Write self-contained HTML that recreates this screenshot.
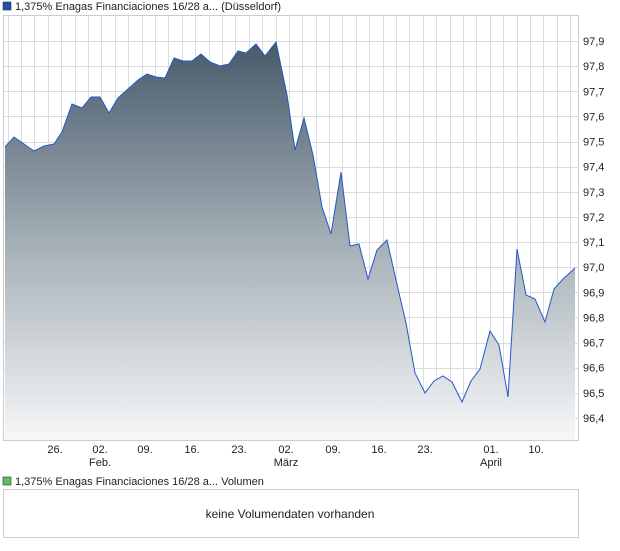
<!DOCTYPE html>
<html><head><style>
body{margin:0;background:#fff;font-family:"Liberation Sans",sans-serif;}
</style></head><body>
<svg width="620" height="546" xmlns="http://www.w3.org/2000/svg" font-family="Liberation Sans, sans-serif" font-size="11">
<defs>
<linearGradient id="g" x1="0" y1="40" x2="0" y2="440" gradientUnits="userSpaceOnUse">
<stop offset="0" stop-color="#46596a"/>
<stop offset="0.5" stop-color="#a3aeb5"/>
<stop offset="1" stop-color="#f6f7f8"/>
</linearGradient>
</defs>
<rect x="3" y="2" width="8" height="8" fill="#1f4fb4" stroke="#333" stroke-width="0.6"/>
<text x="15" y="10" fill="#222">1,375% Enagas Financiaciones 16/28 a... (Düsseldorf)</text>
<rect x="3.5" y="15.5" width="575" height="425" fill="#fff" stroke="#ccc"/>
<g id="grid" stroke="#dcdcdc" stroke-width="1"></g>
<path id="area" fill="url(#g)" d=""/>
<polyline id="line" fill="none" stroke="#2458c8" stroke-width="1" points=""/>
<g id="ylab" fill="#222"></g>
<g fill="#222" text-anchor="middle">
<text x="55" y="453">26.</text>
<text x="100" y="453">02.</text><text x="100" y="466">Feb.</text>
<text x="145" y="453">09.</text>
<text x="192" y="453">16.</text>
<text x="239" y="453">23.</text>
<text x="286" y="453">02.</text><text x="286" y="466">März</text>
<text x="333" y="453">09.</text>
<text x="379" y="453">16.</text>
<text x="425" y="453">23.</text>
<text x="491" y="453">01.</text><text x="491" y="466">April</text>
<text x="536" y="453">10.</text>
</g>
<rect x="3" y="477" width="8" height="8" fill="#5cc05c" stroke="#333" stroke-width="0.6"/>
<text x="15" y="485" fill="#222">1,375% Enagas Financiaciones 16/28 a... Volumen</text>
<rect x="3.5" y="489.5" width="575" height="48" fill="#fff" stroke="#ccc"/>
<text x="290" y="518" text-anchor="middle" font-size="12" fill="#222">keine Volumendaten vorhanden</text>
</svg>
<script>
var ns="http://www.w3.org/2000/svg";
var grid=document.getElementById("grid");
function ln(x1,y1,x2,y2){var l=document.createElementNS(ns,"line");l.setAttribute("x1",x1);l.setAttribute("y1",y1);l.setAttribute("x2",x2);l.setAttribute("y2",y2);grid.appendChild(l);}
for(var x=7.5;x<578;x+=13.4){ln(Math.round(x)+0.5,16,Math.round(x)+0.5,440);}
var yl=document.getElementById("ylab");
for(var i=0;i<=15;i++){var v=97.9-i*0.1;var y=41+i*25.13;ln(4,Math.round(y)+0.5,578,Math.round(y)+0.5);
var t=document.createElementNS(ns,"text");t.setAttribute("x",583);t.setAttribute("y",y+4);t.textContent=v.toFixed(1).replace(".",",");yl.appendChild(t);}
var p=[[5,147],[14,137],[24,144],[34,151],[44,146],[54,144],[62,132],[72,104],[82,108],[91,97],[100,97],[109,113],[118,98],[128,89],[138,80],[147,74],[156,77],[165,78],[174,58],[183,61],[192,61],[201,54],[210,62],[220,66],[229,64],[238,51],[246,53],[256,44],[265,56],[276,42],[287,95],[295,150],[304,118],[313,155],[322,207],[331,234],[341,172],[350,246],[359,244],[368,279],[377,250],[387,240],[396,280],[406,323],[415,373],[425,393],[434,381],[443,376],[452,382],[462,402],[471,381],[480,369],[490,331],[499,345],[508,397],[517,249],[526,295],[535,299],[545,322],[554,289],[563,279],[573,270],[575,268]];
var s=p.map(function(a){return a.join(",")}).join(" ");
document.getElementById("line").setAttribute("points",s);
document.getElementById("area").setAttribute("d","M5,440 L"+s.split(" ").join(" L")+" L575,440 Z");
</script>
</body></html>
